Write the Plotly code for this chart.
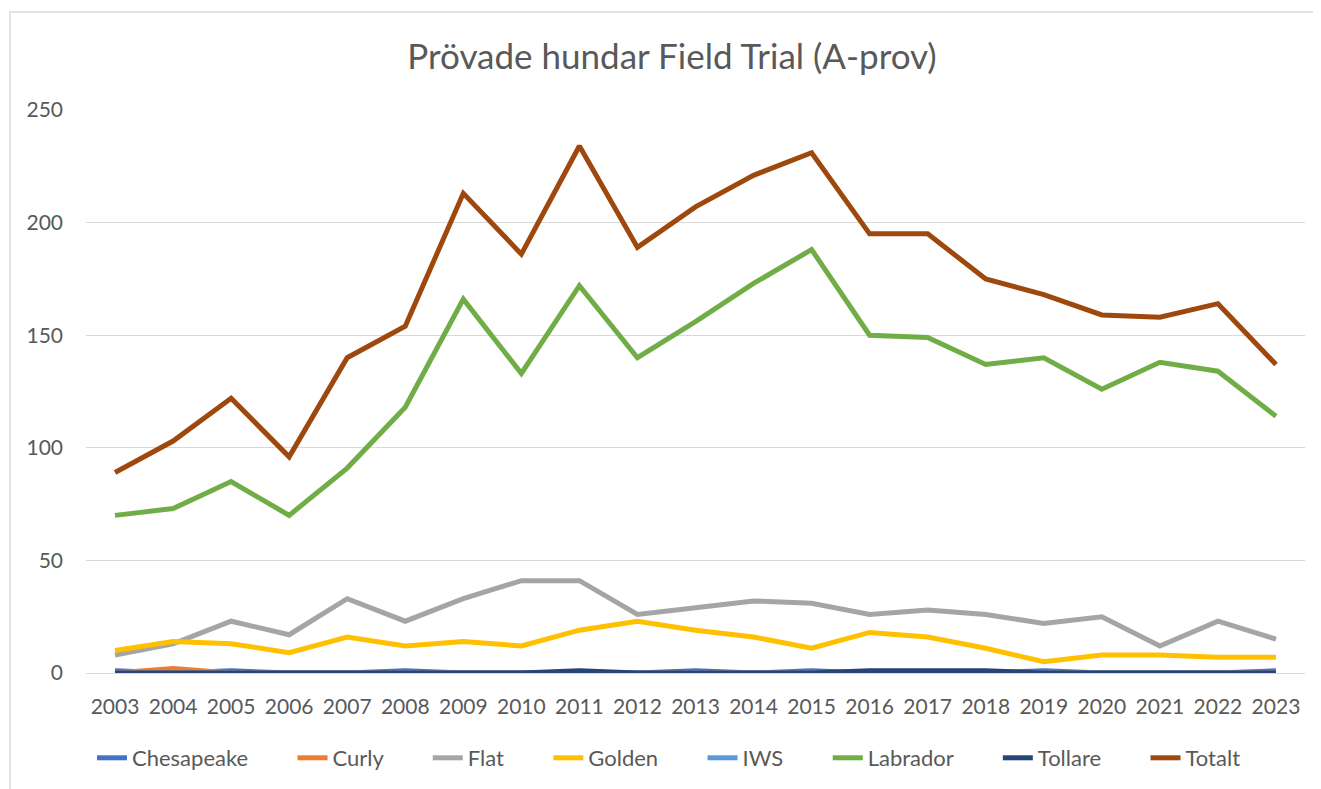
import plotly.graph_objects as go

years = list(range(2003, 2024))
chesapeake = [1, 0, 1, 0, 0, 1, 0, 0, 0, 0, 1, 0, 1, 0, 0, 0, 1, 0, 0, 0, 1]
curly      = [0, 2, 0, 0, 0, 0, 0, 0, 0, 0, 0, 0, 0, 0, 0, 0, 0, 0, 0, 0, 0]
flat       = [8, 13, 23, 17, 33, 23, 33, 41, 41, 26, 29, 32, 31, 26, 28, 26, 22, 25, 12, 23, 15]
golden     = [10, 14, 13, 9, 16, 12, 14, 12, 19, 23, 19, 16, 11, 18, 16, 11, 5, 8, 8, 7, 7]
iws        = [0] * 21
labrador   = [70, 73, 85, 70, 91, 118, 166, 133, 172, 140, 156, 173, 188, 150, 149, 137, 140, 126, 138, 134, 114]
tollare    = [0, 0, 0, 0, 0, 0, 0, 0, 1, 0, 0, 0, 0, 1, 1, 1, 0, 0, 0, 0, 0]
totalt     = [89, 103, 122, 96, 140, 154, 213, 186, 234, 189, 207, 221, 231, 195, 195, 175, 168, 159, 158, 164, 137]

names  = ["Chesapeake", "Curly", "Flat", "Golden", "IWS", "Labrador", "Tollare", "Totalt"]
values = [chesapeake, curly, flat, golden, iws, labrador, tollare, totalt]
colors = ["#4472C4", "#ED7D31", "#A5A5A5", "#FFC000", "#5B9BD5", "#70AD47", "#264478", "#9E480E"]

font_family = "Lato, 'Open Sans', sans-serif"
pad = "\u00a0" * 7
fig = go.Figure()
for i, (name, vals, color) in enumerate(zip(names, values, colors)):
    fig.add_trace(go.Scatter(
        x=years, y=vals, name=name + (pad if i < len(names) - 1 else ""), mode="lines",
        line=dict(color=color, width=5),
    ))

# page places the figure at an 8px offset
OFF = 8
W, H = 1321 - OFF, 789 - OFF
ml, mt = 86 - OFF, 110 - OFF
mr = 16
mb = H - (673 - OFF)
pw = W - ml - mr
ph = H - mt - mb

fig.update_layout(
    width=W, height=H,
    margin=dict(l=ml, r=mr, t=mt, b=mb, autoexpand=False),
    paper_bgcolor="white", plot_bgcolor="white",
    font=dict(family=font_family, color="#595959", size=21),
    title=dict(text="Prövade hundar Field Trial (A-prov)", x=(672 - OFF - ml) / pw, xref="paper",
               xanchor="center", y=1 - (57 - OFF) / H, yanchor="middle",
               font=dict(size=35, color="#595959", family=font_family)),
    xaxis=dict(range=[2002.5, 2023.5], tickmode="array", tickvals=years,
               ticktext=[str(y) for y in years], showgrid=False,
               showline=False, zeroline=False, ticks="", fixedrange=True,
               ticklabelstandoff=19,
               tickfont=dict(size=21, color="#595959")),
    yaxis=dict(range=[0, 250], tickmode="array", tickvals=[0, 50, 100, 150, 200, 250],
               showgrid=True, gridcolor="#D9D9D9", gridwidth=1, zeroline=True,
               zerolinecolor="#D9D9D9", zerolinewidth=1, ticks="", ticklabelstandoff=22,
               tickfont=dict(size=21, color="#595959")),
    legend=dict(orientation="h", x=(92 - OFF - ml) / pw, xanchor="left",
                y=-(758 - 673) / ph, yanchor="middle",
                font=dict(size=22, color="#595959"),
                tracegroupgap=0),
    showlegend=True,
)

# chart border (left and top visible in the frame)
fig.add_shape(type="rect", xref="paper", yref="paper",
              x0=-(ml - 2) / pw, x1=1 + (mr + 20) / pw,
              y0=-(mb + 20) / ph, y1=1 + (mt - 4) / ph,
              line=dict(color="#D9D9D9", width=1.5), layer="below")

fig.write_html("out.html")
